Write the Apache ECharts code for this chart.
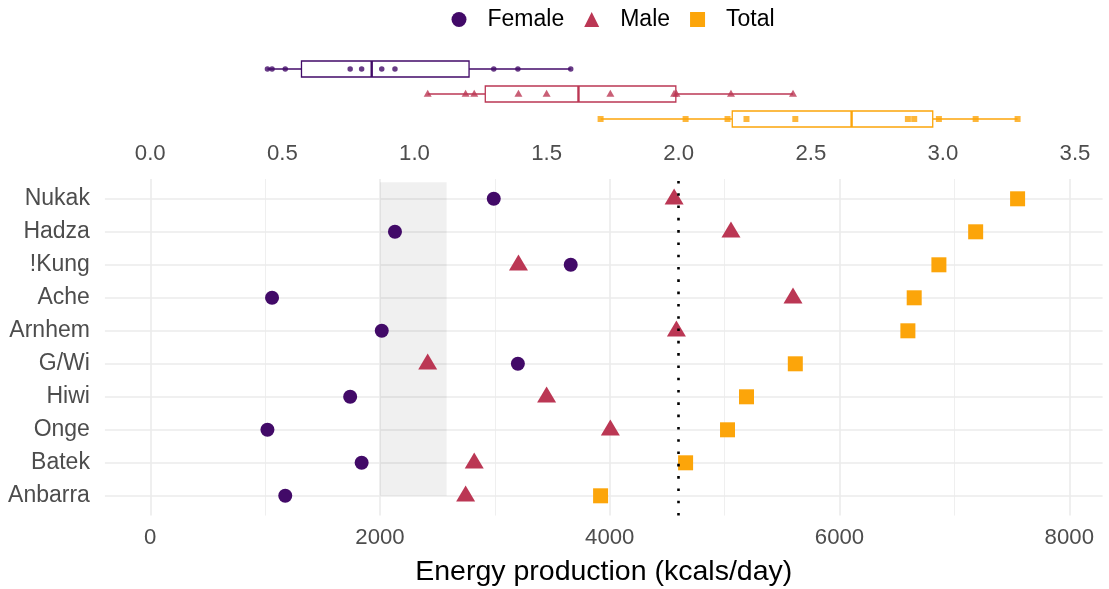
<!DOCTYPE html>
<html>
<head>
<meta charset="utf-8">
<title>Energy production by forager group</title>
<script src="https://cdn.jsdelivr.net/npm/echarts@6/dist/echarts.min.js"></script>
<style>
  html, body { margin: 0; padding: 0; background: #fff; }
  #chart { width: 1109px; height: 589px; }
</style>
</head>
<body>
<div id="chart"></div>
<script>
// Forager groups, listed top to bottom
const groups = ['Nukak', 'Hadza', '!Kung', 'Ache', 'Arnhem', 'G/Wi', 'Hiwi', 'Onge', 'Batek', 'Anbarra'];

// Daily energy production (kcal/day)
const female = [2990, 2130, 3660, 1060, 2015, 3200, 1740, 1020, 1840, 1175];
const male   = [4560, 5055, 3205, 5595, 4580, 2415, 3450, 4005, 2820, 2745];
const total  = [7550, 7185, 6865, 6650, 6595, 5615, 5190, 5025, 4660, 3920];

// Axis ticks
const kcalTicks = [0, 2000, 4000, 6000, 8000];
const kcalMinorTicks = [1000, 3000, 5000, 7000];
const ratioTicks = [0.0, 0.5, 1.0, 1.5, 2.0, 2.5, 3.0, 3.5];

// Reference requirement (kcal/day) used for the secondary scale
const refKcal = 2300;
// Shaded requirement band (kcal/day)
const bandRange = [2000, 2580];

const FONT = "'Liberation Sans', Arial, Helvetica, sans-serif";
const COLORS = { Female: '#420A68', Male: '#BB3754', Total: '#FCA50A' };
const GRID_COLOR = '#ebebeb';

const X_MIN = -395, X_MAX = 8290;
const nG = groups.length;
const yOf = i => nG - 1 - i;

// Type-7 quantile on an ascending array
function quantile(asc, p) {
  const h = (asc.length - 1) * p;
  const lo = Math.floor(h);
  const hi = Math.min(lo + 1, asc.length - 1);
  return asc[lo] + (h - lo) * (asc[hi] - asc[lo]);
}
function fiveNum(values) {
  const a = values.slice().sort((x, y) => x - y);
  return [a[0], quantile(a, 0.25), quantile(a, 0.5), quantile(a, 0.75), a[a.length - 1]];
}

const sets = [
  { name: 'Female', values: female, symbol: 'circle', size: 14, offset: [0, 0], smallSize: 5.5, smallOffset: [0, 0], row: 2 },
  { name: 'Male', values: male, symbol: 'triangle', size: [19, 16], offset: [0, -2.3], smallSize: [8, 7], smallOffset: [0, -0.8], row: 1 },
  { name: 'Total', values: total, symbol: 'rect', size: 15, offset: [0, 0], smallSize: 6, smallOffset: [0, 0], row: 0 }
];

const chart = echarts.init(document.getElementById('chart'), null, { renderer: 'canvas' });

const gridLines = [];
kcalTicks.forEach(v => gridLines.push({ xAxis: v, lineStyle: { color: GRID_COLOR, width: 1.6, type: 'solid' } }));
kcalMinorTicks.forEach(v => gridLines.push({ xAxis: v, lineStyle: { color: GRID_COLOR, width: 0.8, type: 'solid' } }));
groups.forEach((g, i) => gridLines.push({ yAxis: yOf(i), lineStyle: { color: GRID_COLOR, width: 1.6, type: 'solid' } }));

const series = [];

// Panel gridlines (kept beneath everything else)
series.push({
  name: 'gridlines', type: 'line', xAxisIndex: 0, yAxisIndex: 0, data: [], silent: true, z: 0,
  markLine: { silent: true, z: 0, symbol: 'none', label: { show: false }, animation: false, data: gridLines }
});

// Shaded requirement band
series.push({
  name: 'band', type: 'line', xAxisIndex: 0, yAxisIndex: 0, data: [], silent: true, z: 1,
  markArea: {
    silent: true, z: 1, animation: false,
    itemStyle: { color: 'rgba(0,0,0,0.06)' },
    data: [[{ xAxis: bandRange[0], yAxis: 0 }, { xAxis: bandRange[1], yAxis: 9.5 }]]
  }
});

// Points per group
sets.forEach(s => {
  series.push({
    name: s.name, type: 'scatter', xAxisIndex: 0, yAxisIndex: 0, z: 3,
    symbol: s.symbol, symbolSize: s.size, symbolOffset: s.offset,
    itemStyle: { color: COLORS[s.name], opacity: 1 },
    data: s.values.map((v, i) => [v, yOf(i)])
  });
});

// Dotted reference line at twice the requirement
series.push({
  name: 'twice', type: 'line', xAxisIndex: 0, yAxisIndex: 0, data: [], silent: true, z: 5,
  markLine: {
    silent: true, z: 5, symbol: 'none', label: { show: false }, animation: false,
    lineStyle: { color: '#000', width: 2.6, type: [2.6, 9.7], cap: 'butt' },
    data: [{ xAxis: 2 * refKcal }]
  }
});

// Marginal boxplots
series.push({
  name: 'boxes', type: 'custom', xAxisIndex: 2, yAxisIndex: 1, z: 2, silent: true,
  encode: { x: [0, 1, 2, 3, 4], y: 5 },
  data: sets.map(s => fiveNum(s.values).concat([s.row])),
  renderItem: function (params, api) {
    const c = COLORS[sets[params.dataIndex].name];
    const y = api.value(5);
    const p = [0, 1, 2, 3, 4].map(k => api.coord([api.value(k), y]));
    const h = 16;
    const cy = p[0][1];
    return {
      type: 'group',
      children: [
        { type: 'line', shape: { x1: p[0][0], y1: cy, x2: p[1][0], y2: cy }, style: { stroke: c, lineWidth: 1.3 } },
        { type: 'line', shape: { x1: p[3][0], y1: cy, x2: p[4][0], y2: cy }, style: { stroke: c, lineWidth: 1.3 } },
        { type: 'rect', shape: { x: p[1][0], y: cy - h / 2, width: p[3][0] - p[1][0], height: h }, style: { fill: '#fff', stroke: c, lineWidth: 1.3 } },
        { type: 'line', shape: { x1: p[2][0], y1: cy - h / 2, x2: p[2][0], y2: cy + h / 2 }, style: { stroke: c, lineWidth: 2.4 } }
      ]
    };
  }
});

sets.forEach(s => {
  series.push({
    name: s.name + ' values', type: 'scatter', xAxisIndex: 2, yAxisIndex: 1, z: 3, silent: true,
    symbol: s.symbol, symbolSize: s.smallSize, symbolOffset: s.smallOffset,
    itemStyle: { color: COLORS[s.name] },
    data: s.values.map(v => [v, s.row])
  });
});

const tickLabel = { color: '#4d4d4d', fontSize: 22.2, fontFamily: FONT };

chart.setOption({
  animation: false,
  backgroundColor: '#fff',
  textStyle: { fontFamily: FONT },
  legend: {
    left: 446.5, top: 3,
    itemWidth: 15, itemHeight: 15, itemGap: 20,
    selectedMode: false,
    textStyle: { fontSize: 23, color: '#000', fontFamily: FONT, padding: [0, 0, 0, 16] },
    data: [
      { name: 'Female', icon: 'circle' },
      { name: 'Male', icon: 'triangle' },
      { name: 'Total', icon: 'rect' }
    ]
  },
  grid: [
    { left: 104.9, right: 6.4, top: 179, height: 336.6, outerBoundsMode: 'none', containLabel: false },
    { left: 104.9, right: 6.4, top: 56.5, height: 75, outerBoundsMode: 'none', containLabel: false }
  ],
  xAxis: [
    {
      type: 'value', gridIndex: 0, position: 'bottom', min: X_MIN, max: X_MAX,
      axisLine: { show: false }, axisTick: { show: false }, splitLine: { show: false },
      axisLabel: Object.assign({ customValues: kcalTicks, formatter: v => String(v), margin: 11 }, tickLabel),
      name: 'Energy production (kcals/day)', nameLocation: 'middle', nameGap: 42,
      nameTextStyle: { fontSize: 28.5, color: '#000', fontFamily: FONT }
    },
    {
      type: 'value', gridIndex: 0, position: 'top', min: X_MIN / refKcal, max: X_MAX / refKcal,
      axisLine: { show: false }, axisTick: { show: false }, splitLine: { show: false },
      axisLabel: Object.assign({ customValues: ratioTicks, formatter: v => v.toFixed(1), margin: 14 }, tickLabel)
    },
    {
      type: 'value', gridIndex: 1, min: X_MIN, max: X_MAX, show: false,
      splitLine: { show: false }
    }
  ],
  yAxis: [
    {
      type: 'value', gridIndex: 0, min: -0.6, max: nG - 1 + 0.6,
      axisLine: { show: false }, axisTick: { show: false }, splitLine: { show: false },
      axisLabel: Object.assign({}, tickLabel, {
        customValues: groups.map((g, i) => i),
        formatter: v => groups[nG - 1 - v],
        margin: 15,
        fontSize: 23
      })
    },
    {
      type: 'value', gridIndex: 1, min: -0.5, max: 2.5, show: false,
      splitLine: { show: false }
    }
  ],
  series: series
});
</script>
</body>
</html>
